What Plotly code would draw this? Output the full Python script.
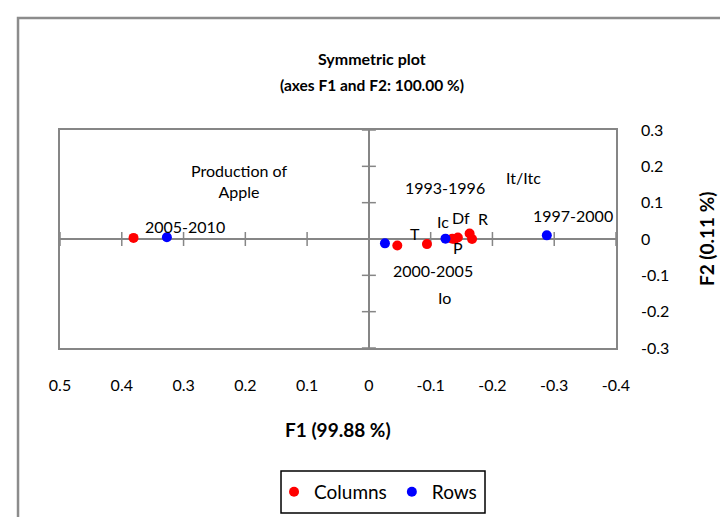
import plotly.graph_objects as go

# ---- data ----
col_labels = ["Production of Apple", "Io", "T", "Ic", "Df", "P", "It/Itc", "R"]
col_f1 = [0.381, -0.046, -0.094, -0.135, -0.144, -0.139, -0.163, -0.167]
col_f2 = [0.003, -0.018, -0.014, 0.001, 0.004, 0.000, 0.015, 0.000]

row_labels = ["2005-2010", "2000-2005", "1993-1996", "1997-2000"]
row_f1 = [0.327, -0.026, -0.124, -0.288]
row_f2 = [0.005, -0.012, 0.001, 0.010]

x_ticks = [0.5, 0.4, 0.3, 0.2, 0.1, 0, -0.1, -0.2, -0.3, -0.4]
y_ticks = [0.3, 0.2, 0.1, 0, -0.1, -0.2, -0.3]

# label offsets in pixels (dx, dy) relative to each point
col_offsets = [(105, 57), (47, -52), (-12, 11), (-9, 17), (3, 20), (3, -8), (54, 56), (11, 21)]
row_offsets = [(18, 11), (48, -27), (0, 51), (26, 20)]

GRAY = "#868686"
FONT = "Lato"
LBL = 16

def fmt(v):
    return "0" if v == 0 else ("%g" % v)

fig = go.Figure()

# tick marks crossing the zero axes
fig.add_trace(go.Scatter(
    x=[v for v in x_ticks if v != 0], y=[0] * (len(x_ticks) - 1),
    mode="markers", marker=dict(symbol="line-ns", size=10, line=dict(color=GRAY, width=1.5)),
    showlegend=False, hoverinfo="skip", cliponaxis=False))
fig.add_trace(go.Scatter(
    x=[0] * (len(y_ticks) - 1), y=[v for v in y_ticks if v != 0],
    mode="markers", marker=dict(symbol="line-ew", size=10, line=dict(color=GRAY, width=1.5)),
    showlegend=False, hoverinfo="skip", cliponaxis=False))

fig.add_trace(go.Scatter(x=col_f1, y=col_f2, mode="markers", name="Columns",
                         marker=dict(color="#FF0000", size=10)))
fig.add_trace(go.Scatter(x=row_f1, y=row_f2, mode="markers", name="Rows",
                         marker=dict(color="#0000FF", size=10)))

annotations = []
for lbl, x, y, (dx, dy) in zip(col_labels, col_f1, col_f2, col_offsets):
    txt = "Production of<br>Apple" if lbl == "Production of Apple" else lbl
    annotations.append(dict(x=x, y=y, xref="x", yref="y", text=txt, showarrow=False,
                            xshift=dx, yshift=dy, font=dict(family=FONT, size=LBL, color="#000")))
for lbl, x, y, (dx, dy) in zip(row_labels, row_f1, row_f2, row_offsets):
    annotations.append(dict(x=x, y=y, xref="x", yref="y", text=lbl, showarrow=False,
                            xshift=dx, yshift=dy, font=dict(family=FONT, size=LBL, color="#000")))

# title lines
annotations.append(dict(x=0.5612, y=(340 - 50) / 218, xref="paper", yref="paper",
                        text="<b>Symmetric plot</b>",
                        showarrow=False, yanchor="middle", font=dict(family=FONT, size=16, color="#000")))
annotations.append(dict(x=0.5612, y=(340 - 77) / 218, xref="paper", yref="paper",
                        text="<b>(axes F1 and F2: 100.00 %)</b>",
                        showarrow=False, yanchor="middle", font=dict(family=FONT, size=15.5, color="#000")))

# axis titles
annotations.append(dict(x=0.5, y=-0.372, xref="paper", yref="paper", text="<b>F1 (99.88 %)</b>",
                        showarrow=False, yanchor="middle", font=dict(family=FONT, size=19, color="#000")))
annotations.append(dict(x=1.162, y=0.5, xref="paper", yref="paper", text="<b>F2 (0.11 %)</b>",
                        showarrow=False, textangle=-90, xanchor="center", yanchor="middle",
                        font=dict(family=FONT, size=19, color="#000")))

fig.update_layout(
    width=728, height=517,
    margin=dict(l=52, r=120, t=122, b=177),
    paper_bgcolor="white", plot_bgcolor="white",
    font=dict(family=FONT, color="#000"),
    showlegend=True,
    legend=dict(orientation="h", x=0.572, xanchor="center", y=-0.66, yanchor="middle",
                borderwidth=0, bgcolor="rgba(0,0,0,0)",
                font=dict(family=FONT, size=19, color="#000"), itemwidth=30),
    annotations=annotations,
    shapes=[
        dict(type="rect", xref="paper", yref="paper", x0=-0.0755, x1=1.3, y0=-1.0, y1=1.514,
             line=dict(color="#8c8c8c", width=2.5), fillcolor="rgba(0,0,0,0)", layer="below"),
        dict(type="rect", xref="paper", yref="paper", x0=0.3975, x1=0.7644, y0=-0.757, y1=-0.564,
             line=dict(color="#000", width=1.5), fillcolor="rgba(0,0,0,0)", layer="below"),
    ],
)

fig.update_xaxes(range=[0.5, -0.4], tickvals=x_ticks, ticktext=[fmt(v) for v in x_ticks],
                 showgrid=False, zeroline=True, zerolinecolor=GRAY, zerolinewidth=1.5,
                 showline=True, mirror=True, linecolor=GRAY, linewidth=1.5,
                 ticks="", ticklabelstandoff=22, tickfont=dict(family=FONT, size=16, color="#000"))
fig.update_yaxes(range=[-0.3, 0.3], tickvals=y_ticks, ticktext=[fmt(v) for v in y_ticks],
                 side="right", showgrid=False, zeroline=True, zerolinecolor=GRAY, zerolinewidth=1.5,
                 showline=True, mirror=True, linecolor=GRAY, linewidth=1.5,
                 ticks="", ticklabelstandoff=20, tickfont=dict(family=FONT, size=16, color="#000"))

fig.write_html("out.html")
